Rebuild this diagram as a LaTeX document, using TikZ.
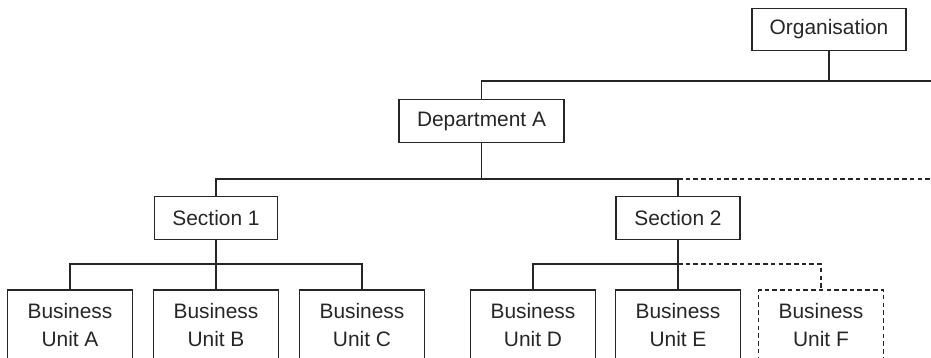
\documentclass[tikz,border=0pt]{standalone}
\usepackage{fontspec}
\setmainfont{Liberation Sans}
\usepackage{xcolor}
\usepackage{tikz}

\begin{document}
\begin{tikzpicture}[x=0.02cm, y=-0.02cm,
    line width=0.75pt, color=black!85,
    unitbox/.style={draw, rectangle, align=center, inner sep=0pt,
        font=\fontsize{11.9}{15.5}\selectfont, minimum height=#1},
    unitbox/.default=42.5*0.02cm,
    dashlink/.style={dash pattern=on 2.6pt off 1.8pt}]
    \useasboundingbox (0,0) rectangle (931,358);

    % top levels
    \node[unitbox, minimum width=154*0.02cm] (org) at (829,29.5) {Organisation};
    \node[unitbox, minimum width=165*0.02cm] (depA) at (481.5,121) {Department A};
    \node[unitbox, minimum width=123*0.02cm] (sec1) at (216,218) {Section 1};
    \node[unitbox, minimum width=124*0.02cm] (sec2) at (678,218) {Section 2};

    % business units
    \foreach \name/\x in {A/70,B/216,C/362,D/533,E/678} {
        \node[unitbox=70*0.02cm, minimum width=125*0.02cm] (unit\name) at (\x,325) {Business\\Unit \name};
    }
    \node[unitbox=70*0.02cm, minimum width=125*0.02cm, dashlink] (unitF) at (821,325) {Business\\Unit F};

    % junctions
    \coordinate (orgR) at (931,81);
    \coordinate (depJ) at (481.5,179);
    \coordinate (depR) at (931,179);
    \coordinate (s1J) at (216,264);
    \coordinate (s2J) at (678,264);

    % Organisation links
    \draw (org.south) -- (org.south |- orgR);
    \draw (depA.north) |- (orgR);

    % Department links
    \draw (depA.south) -- (depJ);
    \draw (sec1.north) |- (depJ) -| (sec2.north);
    \draw[dashlink] (sec2.north |- depJ) -- (depR);

    % Section 1 links
    \draw (sec1.south) -- (unitB.north);
    \draw (unitA.north) |- (s1J) -| (unitC.north);

    % Section 2 links
    \draw (sec2.south) -- (unitE.north);
    \draw (unitD.north) |- (s2J);
    \draw[dashlink] (s2J) -| (unitF.north);
\end{tikzpicture}
\end{document}
